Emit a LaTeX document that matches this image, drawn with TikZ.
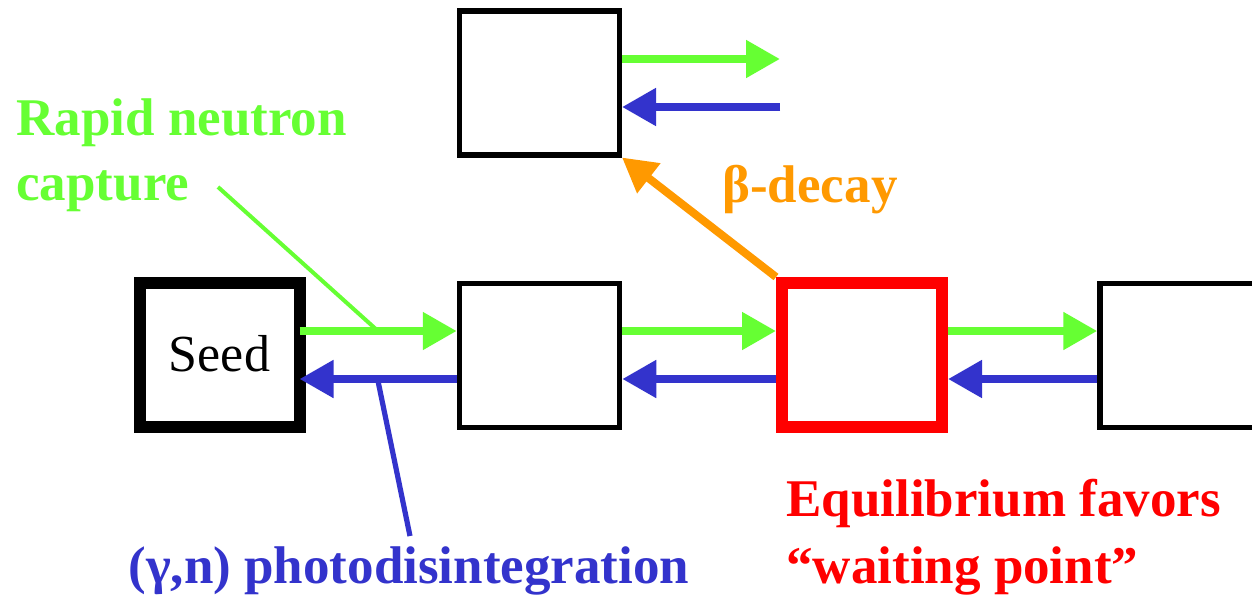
\documentclass[tikz,border=0pt]{standalone}
\usepackage{fontspec}
\setmainfont{Liberation Serif}
\usetikzlibrary{arrows.meta}
\definecolor{cgreen}{RGB}{102,255,51}
\definecolor{cblue}{RGB}{51,51,204}
\definecolor{corange}{RGB}{255,153,0}
\definecolor{cred}{RGB}{255,0,0}
\begin{document}
\begin{tikzpicture}[x=0.5pt,y=-0.5pt,
  nucbox/.style={draw=black, line width=2.75pt, minimum width=80pt, minimum height=72pt, inner sep=0pt, fill=white},
  seedbox/.style={nucbox, line width=6pt, outer sep=0pt, font=\fontsize{26}{30}\selectfont},
  waitbox/.style={nucbox, draw=cred, line width=6pt},
  flow/.style={line width=4pt, -{Triangle[length=17pt,width=18pt]}},
  capt/.style={flow, cgreen},
  photo/.style={flow, cblue},
  lbl/.style={font=\fontsize{26.5}{32.5}\selectfont\bfseries, inner sep=0pt, anchor=base west, align=left},
]
\clip (0,0) rectangle (1252,595);
\fill[white] (0,0) rectangle (1252,595);
% boxes
\node[seedbox] (seed) at (219.5,355) {\raisebox{1.5pt}{Seed}\hspace{2pt}};
\node[nucbox] (n1) at (539.5,355.5) {};
\node[waitbox] (wait) at (862,355) {};
\node[nucbox] (n2) at (1180,355.5) {};
\node[nucbox] (top) at (539.25,82.75) {};
% helper coordinates
\coordinate (gy) at (0,331);
\coordinate (by) at (0,379);
\coordinate (tg) at (780,59);
\coordinate (tb) at (780,107);
% capture and photodisintegration arrows
\draw[capt] (seed.east |- gy) -- (n1.west |- gy);
\draw[capt] (n1.east |- gy) -- (wait.west |- gy);
\draw[capt] (wait.east |- gy) -- (n2.west |- gy);
\draw[photo] (n2.west |- by) -- (wait.east |- by);
\draw[photo] (wait.west |- by) -- (n1.east |- by);
\draw[photo] (n1.west |- by) -- (seed.east |- by);
\draw[capt] (top.east |- tg) -- (tg);
\draw[photo] (tb) -- (top.east |- tb);
\draw[flow, corange] (wait.north west) -- (top.south east);
% pointer lines
\coordinate (gl) at (218,187);
\coordinate (gp) at (378,331);
\coordinate (bp) at (378,381);
\coordinate (bl) at (410,536);
\draw[line width=2pt, cgreen] (gl) -- (gp);
\draw[line width=2.6pt, cblue] (bp) -- (bl);
% labels
\node[lbl, text=cgreen] (rnc) at (16,200) {Rapid neutron\\capture};
\node[lbl, text=corange] (bd) at (722,202) {β-decay};
\node[lbl, text=cred, font=\fontsize{26.5}{33.5}\selectfont\bfseries] (eq) at (786,583) {Equilibrium favors\\“waiting point”};
\node[lbl, text=cblue] (gn) at (128,583) {(γ,n) photodisintegration};
\end{tikzpicture}
\end{document}
